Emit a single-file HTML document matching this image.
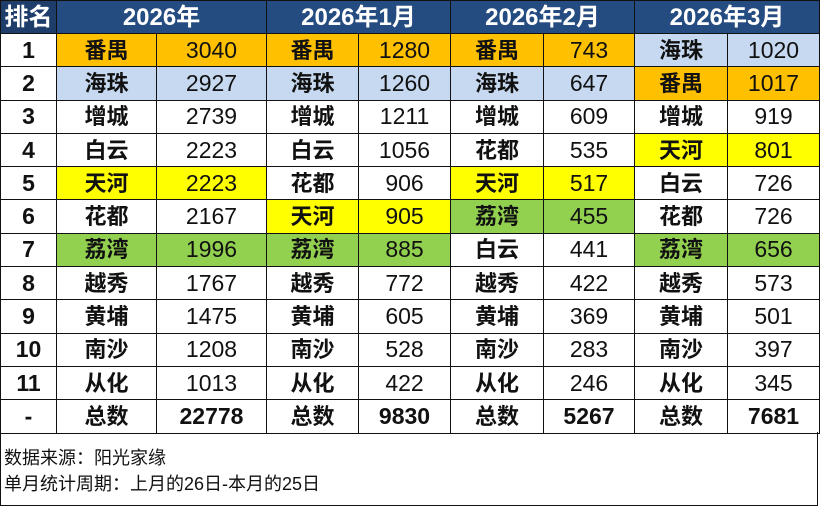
<!DOCTYPE html>
<html><head><meta charset="utf-8"><style>
body{margin:0;width:820px;height:508px;background:#fff;overflow:hidden;font-family:"Liberation Sans","Noto Sans CJK SC",sans-serif;}
table{position:absolute;left:0;top:0;border-collapse:collapse;table-layout:fixed;width:819px;}
td{border:1.5px solid #111;height:32.3px;padding:0;text-align:center;font-size:23px;color:#111;line-height:31px;}
tr.h td{background:#254c80;color:#fff;font-weight:bold;font-size:24px;height:32px;}
tr.h td.r{background:#1f3d6b;}
td.n{font-weight:bold;font-size:22px;}
td.k{font-weight:bold;}
tr.t td{font-weight:bold;}
.o{background:#ffc000;}.b{background:#c6d9f0;}.y{background:#ffff00;}.g{background:#92d050;}
.note{position:absolute;left:0;top:432px;width:818px;height:74px;border:1.5px solid #111;border-top:none;font-size:18px;color:#111;line-height:26px;padding-top:13px;box-sizing:border-box;padding-left:3px;}
</style></head><body>
<table>
<colgroup><col style="width:56px"><col style="width:100px"><col style="width:110px"><col style="width:92px"><col style="width:92px"><col style="width:93px"><col style="width:91px"><col style="width:93px"><col style="width:92px"></colgroup>
<tr class="h"><td class="r">排名</td><td colspan="2">2026年</td><td colspan="2">2026年1月</td><td colspan="2">2026年2月</td><td colspan="2">2026年3月</td></tr>
<tr><td class="k">1</td><td class="n o">番禺</td><td class="o">3040</td><td class="n o">番禺</td><td class="o">1280</td><td class="n o">番禺</td><td class="o">743</td><td class="n b">海珠</td><td class="b">1020</td></tr>
<tr><td class="k">2</td><td class="n b">海珠</td><td class="b">2927</td><td class="n b">海珠</td><td class="b">1260</td><td class="n b">海珠</td><td class="b">647</td><td class="n o">番禺</td><td class="o">1017</td></tr>
<tr><td class="k">3</td><td class="n">增城</td><td>2739</td><td class="n">增城</td><td>1211</td><td class="n">增城</td><td>609</td><td class="n">增城</td><td>919</td></tr>
<tr><td class="k">4</td><td class="n">白云</td><td>2223</td><td class="n">白云</td><td>1056</td><td class="n">花都</td><td>535</td><td class="n y">天河</td><td class="y">801</td></tr>
<tr><td class="k">5</td><td class="n y">天河</td><td class="y">2223</td><td class="n">花都</td><td>906</td><td class="n y">天河</td><td class="y">517</td><td class="n">白云</td><td>726</td></tr>
<tr><td class="k">6</td><td class="n">花都</td><td>2167</td><td class="n y">天河</td><td class="y">905</td><td class="n g">荔湾</td><td class="g">455</td><td class="n">花都</td><td>726</td></tr>
<tr><td class="k">7</td><td class="n g">荔湾</td><td class="g">1996</td><td class="n g">荔湾</td><td class="g">885</td><td class="n">白云</td><td>441</td><td class="n g">荔湾</td><td class="g">656</td></tr>
<tr><td class="k">8</td><td class="n">越秀</td><td>1767</td><td class="n">越秀</td><td>772</td><td class="n">越秀</td><td>422</td><td class="n">越秀</td><td>573</td></tr>
<tr><td class="k">9</td><td class="n">黄埔</td><td>1475</td><td class="n">黄埔</td><td>605</td><td class="n">黄埔</td><td>369</td><td class="n">黄埔</td><td>501</td></tr>
<tr><td class="k">10</td><td class="n">南沙</td><td>1208</td><td class="n">南沙</td><td>528</td><td class="n">南沙</td><td>283</td><td class="n">南沙</td><td>397</td></tr>
<tr><td class="k">11</td><td class="n">从化</td><td>1013</td><td class="n">从化</td><td>422</td><td class="n">从化</td><td>246</td><td class="n">从化</td><td>345</td></tr>
<tr class="t"><td>-</td><td class="n">总数</td><td>22778</td><td class="n">总数</td><td>9830</td><td class="n">总数</td><td>5267</td><td class="n">总数</td><td>7681</td></tr>
</table>
<div class="note">数据来源：阳光家缘<br>单月统计周期：上月的26日-本月的25日</div>
</body></html>
